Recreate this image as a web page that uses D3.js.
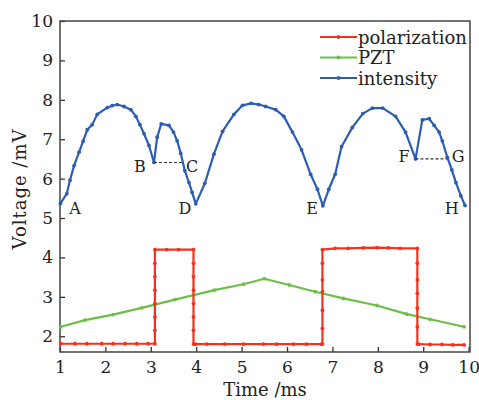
<!DOCTYPE html>
<html>
<head>
<meta charset="utf-8">
<script src="https://cdn.jsdelivr.net/npm/d3@7"></script>
<style>
  body { margin: 0; background: #fff; }
  svg text { font-family: "DejaVu Serif", "Liberation Serif", serif; fill: #222; }
</style>
</head>
<body>
<div id="chart"></div>
<script>
// data
const intensityT = [1.01,1.15,1.22,1.31,1.42,1.51,1.60,1.71,1.82,2.04,2.15,2.26,2.41,2.56,2.67,2.76,2.85,2.96,
  3.07,3.14,3.23,3.40,3.50,3.58,3.66,3.75,3.84,3.91,3.99,4.19,4.39,4.58,4.83,5.02,5.21,5.38,5.53,5.75,5.93,
  6.12,6.32,6.52,6.67,6.79,6.92,7.06,7.20,7.44,7.67,7.88,8.11,8.39,8.61,8.83,8.98,9.13,9.24,9.35,9.42,
  9.53,9.63,9.72,9.83,9.92];
const intensityV = [5.37,5.62,5.96,6.33,6.67,6.95,7.24,7.37,7.63,7.80,7.85,7.88,7.83,7.75,7.58,7.37,7.14,6.84,
  6.41,7.05,7.39,7.35,7.18,6.96,6.64,6.20,5.90,5.65,5.36,5.88,6.62,7.20,7.63,7.86,7.91,7.88,7.83,7.75,7.58,
  7.18,6.73,6.11,5.73,5.31,5.73,6.11,6.81,7.30,7.65,7.79,7.79,7.58,7.18,6.50,7.49,7.52,7.35,7.18,6.96,
  6.54,6.22,5.90,5.56,5.32];

const polT = [1.02,1.33,1.59,1.92,2.17,2.43,2.69,2.94,
  3.09,3.09,3.09,3.09,3.09,3.09,3.09,3.09,3.35,3.61,
  3.94,3.94,3.94,3.94,3.94,3.94,3.94,3.94,
  3.99,4.23,4.63,5.04,5.48,5.77,6.14,6.43,6.76,
  6.78,6.78,6.78,6.78,6.78,6.78,6.78,7.06,7.35,7.68,7.98,8.23,8.49,
  8.87,8.87,8.87,8.87,8.87,8.87,8.87,
  8.90,9.15,9.41,9.65,9.90];
const polV = [1.81,1.81,1.81,1.81,1.81,1.81,1.81,1.81,
  1.81,2.15,2.49,2.83,3.17,3.51,3.85,4.20,4.20,4.20,
  4.20,3.85,3.51,3.17,2.83,2.49,2.15,1.80,
  1.80,1.80,1.80,1.80,1.80,1.80,1.80,1.80,1.80,
  1.80,2.20,2.66,3.13,3.43,3.85,4.20,4.23,4.23,4.24,4.25,4.24,4.23,
  4.23,3.85,3.43,3.09,2.71,2.24,1.80,
  1.80,1.79,1.79,1.78,1.78];

const pztT = [1.02,1.55,2.17,2.80,3.53,4.40,5.04,5.50,6.05,6.62,7.24,7.98,8.64,9.15,9.90];
const pztV = [2.24,2.41,2.55,2.72,2.93,3.17,3.32,3.46,3.30,3.13,2.96,2.78,2.56,2.43,2.24];

const seriesNames = ["polarization", "PZT", "intensity"];
const seriesColors = ["#f2321f", "#6dbf46", "#2c5db3"];

const xTicks = [1,2,3,4,5,6,7,8,9,10];
const yTicks = [2,3,4,5,6,7,8,9,10];

const pointLabels = ["A","B","C","D","E","F","G","H"];
const labelT = [1.33,2.76,3.91,3.75,6.55,8.58,9.77,9.63];
const labelV = [5.25,6.32,6.32,5.25,5.25,6.55,6.55,5.25];

// dashed guides B-C and F-G
const guideT0 = [3.07, 8.83], guideT1 = [3.71, 9.53], guideV = [6.41, 6.50];

const W = 479, H = 400;
const margin = { top: 21, right: 9, bottom: 48, left: 60 };
const width = W - margin.left - margin.right,
      height = H - margin.top - margin.bottom;

const svg = d3.select("#chart").append("svg")
    .attr("width", W).attr("height", H);
const g = svg.append("g")
    .attr("transform", "translate(" + margin.left + "," + margin.top + ")");

const x = d3.scaleLinear().domain([1, 10.03]).range([0, width]);
const y = d3.scaleLinear().domain([1.6, 10]).range([height, 0]);

// axes (ticks pointing inward)
const xAxis = g.append("g")
    .attr("transform", "translate(0," + height + ")")
    .call(d3.axisBottom(x).tickValues(xTicks).tickSizeInner(-5).tickSizeOuter(0).tickPadding(9));
const yAxis = g.append("g")
    .call(d3.axisLeft(y).tickValues(yTicks).tickSizeInner(-5).tickSizeOuter(0).tickPadding(7));
[xAxis, yAxis].forEach(a => {
  a.select(".domain").remove();
  a.selectAll("line").attr("stroke", "#333").attr("stroke-width", 1.3);
  a.selectAll("text").style("font-size", "17px").attr("fill", "#222");
});

g.append("rect")
    .attr("width", width).attr("height", height)
    .attr("fill", "none").attr("stroke", "#444").attr("stroke-width", 1.5);

const line = d3.line().x(d => x(d[0])).y(d => y(d[1]));

const series = [
  d3.zip(polT, polV),
  d3.zip(pztT, pztV),
  d3.zip(intensityT, intensityV)
];

// draw order: intensity, pzt, polarization on top
[2, 1, 0].forEach(i => {
  g.append("path")
    .datum(series[i])
    .attr("d", line)
    .attr("fill", "none")
    .attr("stroke", seriesColors[i])
    .attr("stroke-width", 2.2)
    .attr("stroke-linejoin", "round");
  g.append("g").selectAll("circle")
    .data(series[i])
    .enter().append("circle")
    .attr("cx", d => x(d[0]))
    .attr("cy", d => y(d[1]))
    .attr("r", 1.9)
    .attr("fill", seriesColors[i]);
});

// dashed guides
g.append("g").selectAll("line")
  .data(guideV)
  .enter().append("line")
  .attr("x1", (d, i) => x(guideT0[i]))
  .attr("x2", (d, i) => x(guideT1[i]))
  .attr("y1", d => y(d)).attr("y2", d => y(d))
  .attr("stroke", "#333").attr("stroke-width", 1.1)
  .attr("stroke-dasharray", "3,2");

// point letters
g.append("g").selectAll("text")
  .data(pointLabels)
  .enter().append("text")
  .attr("x", (d, i) => x(labelT[i]))
  .attr("y", (d, i) => y(labelV[i]))
  .attr("text-anchor", "middle")
  .attr("dominant-baseline", "central")
  .style("font-size", "16px")
  .text(d => d);

// legend
const legend = g.append("g").attr("transform", "translate(" + (320 - margin.left) + "," + (37 - margin.top) + ")");
seriesNames.forEach((name, i) => {
  const row = legend.append("g").attr("transform", "translate(0," + i * 20.5 + ")");
  row.append("line").attr("x1", 0).attr("x2", 37).attr("y1", 0).attr("y2", 0)
    .attr("stroke", seriesColors[i]).attr("stroke-width", 2.2);
  row.append("circle").attr("cx", 18.5).attr("cy", 0).attr("r", 1.9).attr("fill", seriesColors[i]);
  row.append("text").attr("x", 38).attr("y", 0)
    .attr("dominant-baseline", "central")
    .style("font-size", "18px")
    .text(name);
});

// axis titles
svg.append("text")
  .attr("x", margin.left + width / 2).attr("y", 396)
  .attr("text-anchor", "middle")
  .style("font-size", "18px")
  .text("Time /ms");
svg.append("text")
  .attr("transform", "translate(19,189) rotate(-90)")
  .attr("text-anchor", "middle")
  .attr("dominant-baseline", "central")
  .style("font-size", "18px")
  .style("letter-spacing", "1px")
  .text("Voltage /mV");
</script>
</body>
</html>
